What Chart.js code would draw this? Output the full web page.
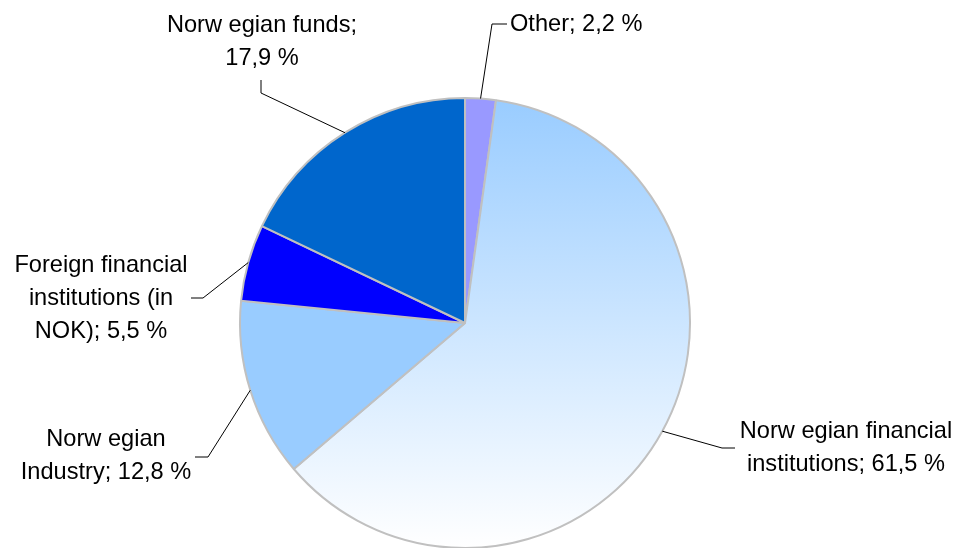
<!DOCTYPE html>
<html>
<head>
<meta charset="utf-8">
<script src="https://cdn.jsdelivr.net/npm/chart.js@4.4.1/dist/chart.umd.min.js"></script>
<style>
    html, body { margin: 0; padding: 0; background: #ffffff; }
    #wrap { width: 955px; height: 548px; position: relative; }
</style>
</head>
<body>
<div id="wrap"><canvas id="pieChart" width="955" height="548"></canvas></div>
<script>
const categories = ['Other', 'Norwegian financial institutions', 'Norwegian Industry', 'Foreign financial institutions (in NOK)', 'Norwegian funds'];
const shares = [2.2, 61.5, 12.8, 5.5, 17.9];
const labelLines = [
    ['Other; 2,2 %'],
    ['Norw egian financial', 'institutions; 61,5 %'],
    ['Norw egian', 'Industry; 12,8 %'],
    ['Foreign financial', 'institutions (in', 'NOK); 5,5 %'],
    ['Norw egian funds;', '17,9 %'],
];
const sliceColors = ['#9999FF', 'gradient', '#99CCFF', '#0000FF', '#0066CC'];

// where each label sits and where its leader line bends (layout only)
const labelLayout = [
    { x: 510, y: 24, align: 'left', elbow: [[492, 24], [507, 24]] },
    { x: 846, y: 431, align: 'center', elbow: [[722, 448], [735, 448]] },
    { x: 106, y: 439, align: 'center', elbow: [[208, 457], [195, 457]] },
    { x: 101, y: 265, align: 'center', elbow: [[203, 298], [191, 298]] },
    { x: 262, y: 25, align: 'center', elbow: [[261, 93], [261, 80]] },
];

const lineGap = 33;

const leaderLabels = {
    id: 'leaderLabels',
    afterDatasetsDraw(chart) {
        const ctx = chart.ctx;
        const meta = chart.getDatasetMeta(0);
        ctx.save();
        ctx.font = '23.6px "Liberation Sans", Arial, sans-serif';
        ctx.fillStyle = '#000000';
        ctx.textBaseline = 'middle';
        meta.data.forEach((arc, i) => {
            const lay = labelLayout[i];
            const mid = (arc.startAngle + arc.endAngle) / 2;
            const sx = arc.x + Math.cos(mid) * arc.outerRadius;
            const sy = arc.y + Math.sin(mid) * arc.outerRadius;
            ctx.strokeStyle = '#000000';
            ctx.lineWidth = 1;
            ctx.beginPath();
            ctx.moveTo(sx, sy);
            lay.elbow.forEach((p) => ctx.lineTo(p[0], p[1]));
            ctx.stroke();
            ctx.textAlign = lay.align;
            labelLines[i].forEach((line, k) => {
                ctx.fillText(line, lay.x, lay.y + k * lineGap);
            });
        });
        ctx.restore();
    },
};

const canvas = document.getElementById('pieChart');

new Chart(canvas, {
    type: 'pie',
    data: {
        labels: categories,
        datasets: [{
            data: shares,
            backgroundColor: (context) => {
                const color = sliceColors[context.dataIndex];
                if (color !== 'gradient') {
                    return color;
                }
                const area = context.chart.chartArea;
                if (!area) {
                    return '#cfe6ff';
                }
                const grad = context.chart.ctx.createLinearGradient(0, area.top, 0, area.bottom);
                grad.addColorStop(0, '#99CCFF');
                grad.addColorStop(1, '#FFFFFF');
                return grad;
            },
            borderColor: '#C0C0C0',
            borderWidth: 2,
        }],
    },
    options: {
        responsive: false,
        animation: false,
        radius: 225,
        layout: {
            padding: { left: 0, right: 25, top: 98, bottom: 0 },
        },
        plugins: {
            legend: { display: false },
            tooltip: { enabled: false },
        },
    },
    plugins: [leaderLabels],
});
</script>
</body>
</html>
